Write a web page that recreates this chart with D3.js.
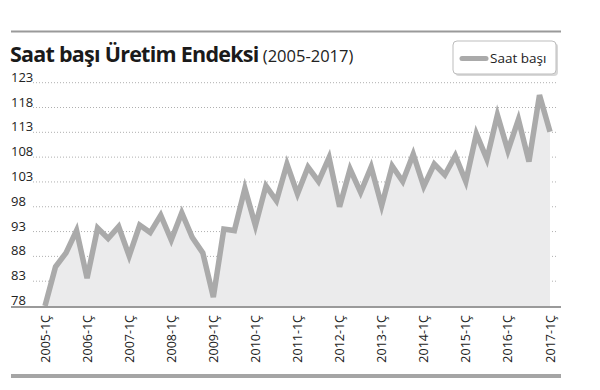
<!DOCTYPE html>
<html><head><meta charset="utf-8">
<script src="https://cdn.jsdelivr.net/npm/d3@7"></script>
<style>
body{margin:0;background:#fff;}
text{font-family:"Open Sans",sans-serif;}
</style></head>
<body><svg id="c" width="600" height="390"></svg>
<script>
const quarters = [];
const years = ["2005","2006","2007","2008","2009","2010","2011","2012","2013","2014","2015","2016","2017"];
years.forEach((y,i)=>{ for(let q=1;q<=4;q++){ if(y==="2017" && q>1) break; quarters.push(y+"-"+q+"Ç"); }});
const values = [78.0,85.9,88.7,93.2, 83.6,93.7,91.6,94.0, 88.1,94.3,92.8,96.3, 91.3,96.8,91.8,88.7,
  79.8,93.5,93.2,101.7, 94.2,102.2,99.2,106.6, 100.6,106.0,103.1,107.9, 98.0,105.6,100.9,106.0,
  98.2,106.2,103.1,108.6, 102.1,106.6,104.4,108.3, 103.1,112.7,107.6,116.5, 109.3,115.6,107.1,120.5, 113.1];
const yTicks = [78,83,88,93,98,103,108,113,118,123];
const tickLabels = years.map(y=>y+"-1Ç");
const seriesName = "Saat başı";
const title = "Saat başı Üretim Endeksi";
const subtitle = "(2005-2017)";

const svg = d3.select("#c");
const x = d3.scalePoint().domain(quarters).range([45, 550]);
const y = d3.scaleLinear().domain([78,123]).range([306, 82.7]);

// top rule
svg.append("line").attr("x1",11).attr("x2",561).attr("y1",31.5).attr("y2",31.5).attr("stroke","#9a9a9a").attr("stroke-width",2);
// title
const t = svg.append("text").attr("x",10).attr("y",62).attr("fill","#1a1a1a");
t.append("tspan").text(title).attr("font-weight","bold").attr("font-size",21.5).attr("letter-spacing","-0.75");
t.append("tspan").text(" "+subtitle).attr("font-size",16.5).attr("fill","#222");

// legend
const lg = svg.append("g");
lg.append("rect").attr("x",455).attr("y",43).attr("width",103).attr("height",33).attr("rx",4).attr("fill","#d8d8d8");
lg.append("rect").attr("x",453).attr("y",41).attr("width",103).attr("height",33).attr("rx",4).attr("fill","#fff").attr("stroke","#bdbdbd");
lg.append("line").attr("x1",462).attr("x2",486).attr("y1",58.5).attr("y2",58.5).attr("stroke","#aaaaaa").attr("stroke-width",5).attr("stroke-linecap","round");
lg.append("text").attr("x",490).attr("y",63).attr("font-size",13.5).attr("fill","#222").text(seriesName);

// grid
const g = svg.append("g");
g.selectAll("line.grid").data(yTicks.slice(1)).join("line").attr("class","grid")
  .attr("x1",33).attr("x2",558).attr("y1",d=>y(d)).attr("y2",d=>y(d))
  .attr("stroke","#9a9a9a").attr("stroke-width",0.8).attr("stroke-dasharray","1,2");
g.selectAll("text.yl").data(yTicks).join("text").attr("class","yl")
  .attr("x",11).attr("y",d=>y(d)-1).attr("font-size",13).attr("fill","#222").text(d=>d);

// area
const area = d3.area().x((d,i)=>x(quarters[i])).y0(y(78)).y1(d=>y(d));
svg.append("path").datum(values).attr("d",area).attr("fill","#ebebec");
// line
const line = d3.line().x((d,i)=>x(quarters[i])).y(d=>y(d));
svg.append("path").datum(values).attr("d",line).attr("fill","none").attr("stroke","#aaaaaa").attr("stroke-width",5.5).attr("stroke-linejoin","miter");

// x axis
svg.append("line").attr("x1",11).attr("x2",561).attr("y1",307).attr("y2",307).attr("stroke","#9a9a9a").attr("stroke-width",2);
const xa = svg.append("g");
xa.selectAll("text").data(tickLabels).join("text")
  .attr("transform",d=>`translate(${x(d)+4.5},315) rotate(-90)`)
  .attr("text-anchor","end").attr("font-size",12.5).attr("fill","#222").text(d=>d);
// bottom bar
svg.append("line").attr("x1",11).attr("x2",561).attr("y1",376).attr("y2",376).attr("stroke","#a5a5a5").attr("stroke-width",4);
</script></body></html>
